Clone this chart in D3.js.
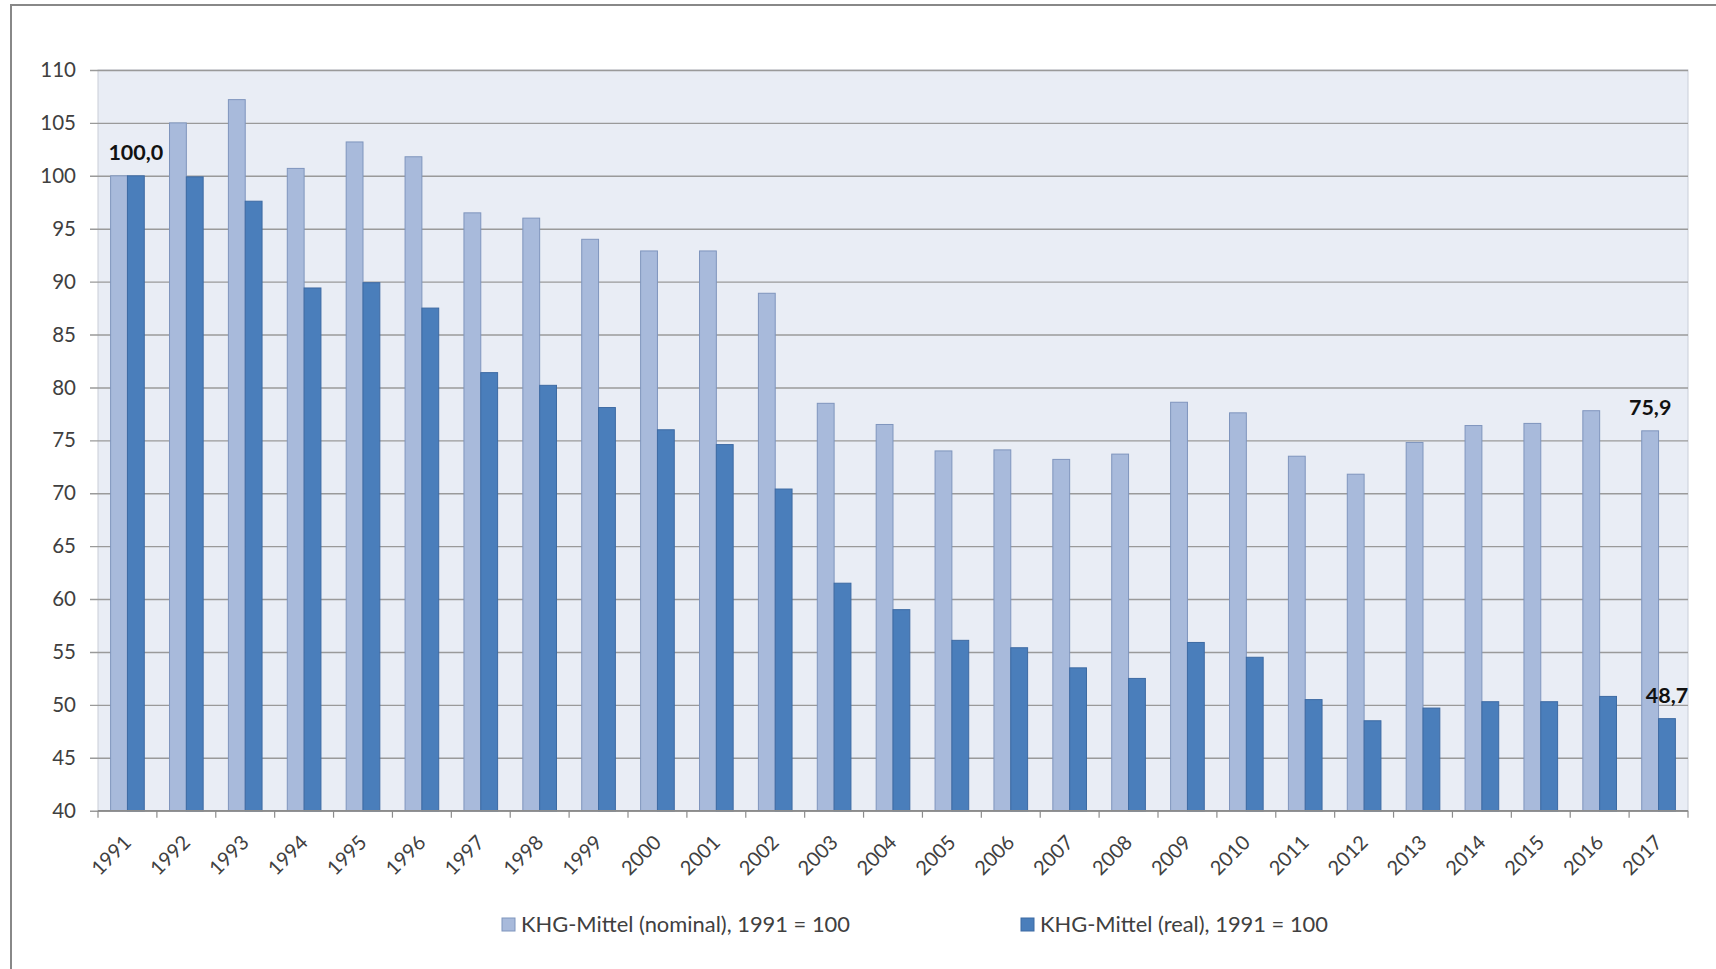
<!DOCTYPE html>
<html>
<head>
<meta charset="utf-8">
<script src="https://cdn.jsdelivr.net/npm/d3@7"></script>
<style>
  html, body { margin: 0; padding: 0; background: #ffffff; }
  svg { display: block; }
  text { font-family: Lato, "Open Sans", sans-serif; }
</style>
</head>
<body>
<svg id="chart" width="1716" height="969"></svg>
<script>
// Jahre und Indexwerte (1991 = 100)
const years = ["1991","1992","1993","1994","1995","1996","1997","1998","1999","2000",
               "2001","2002","2003","2004","2005","2006","2007","2008","2009","2010",
               "2011","2012","2013","2014","2015","2016","2017"];
const nominal = [100.0,105.0,107.2,100.7,103.2,101.8,96.5,96.0,94.0,92.9,
                 92.9,88.9,78.5,76.5,74.0,74.1,73.2,73.7,78.6,77.6,
                 73.5,71.8,74.8,76.4,76.6,77.8,75.9];
const real    = [100.0,99.9,97.6,89.4,89.9,87.5,81.4,80.2,78.1,76.0,
                 74.6,70.4,61.5,59.0,56.1,55.4,53.5,52.5,55.9,54.5,
                 50.5,48.5,49.7,50.3,50.3,50.8,48.7];
const seriesNames = ["KHG-Mittel (nominal), 1991 = 100", "KHG-Mittel (real), 1991 = 100"];
const yTicks = [40,45,50,55,60,65,70,75,80,85,90,95,100,105,110];
// Beschriftete Werte: [Reihe, Jahr]
const labelled = [[1,"1991"],[0,"2017"],[1,"2017"]];

const seriesKeys = ["nominal","real"];
const fills   = { nominal: "#a8badb", real: "#4a7ebb" };
const strokes = { nominal: "#7f95bd", real: "#3d6aa3" };

const svg = d3.select("#chart");

// Rahmen des Diagrammbereichs
svg.append("rect")
  .attr("x", 11).attr("y", 5).attr("width", 1740).attr("height", 1000)
  .attr("fill", "#ffffff").attr("stroke", "#888888").attr("stroke-width", 2);

const plot = { left: 98, right: 1688, top: 70, bottom: 810.7 };

const x = d3.scaleBand().domain(years).range([plot.left, plot.right]).padding(0);
const xs = d3.scaleBand().domain(seriesKeys).range([0, x.bandwidth()])
  .paddingInner(0).paddingOuter(0.75);
const y = d3.scaleLinear().domain([40, 110]).range([plot.bottom, plot.top]);

// Zeichenfläche
svg.append("rect")
  .attr("x", plot.left).attr("y", plot.top)
  .attr("width", plot.right - plot.left).attr("height", plot.bottom - plot.top)
  .attr("fill", "#e9edf5").attr("stroke", "#c9ced8").attr("stroke-width", 1);

// Y-Achse mit Gitterlinien (Striche reichen über die ganze Breite)
const yAxis = svg.append("g")
  .attr("transform", `translate(${plot.right},0)`)
  .call(d3.axisLeft(y).tickValues(yTicks).tickSize(plot.right - 90).tickPadding(14)
        .tickFormat(d3.format("d")));
yAxis.select(".domain").remove();
yAxis.selectAll(".tick line").attr("stroke", "#9a9a9a").attr("stroke-width", 1.4);
yAxis.selectAll(".tick text")
  .attr("fill", "#404040").style("font-size", "20.5px");

// Balken
const groups = svg.append("g").selectAll("g")
  .data(years.map((yr, i) => ({ year: yr, nominal: nominal[i], real: real[i] })))
  .join("g")
  .attr("transform", d => `translate(${x(d.year)},0)`);

groups.selectAll("rect")
  .data(d => seriesKeys.map(k => ({ key: k, value: d[k] })))
  .join("rect")
  .attr("x", d => xs(d.key))
  .attr("width", xs.bandwidth())
  .attr("y", d => y(d.value))
  .attr("height", d => y(40) - y(d.value))
  .attr("fill", d => fills[d.key])
  .attr("stroke", d => strokes[d.key])
  .attr("stroke-width", 1);

// X-Achse
const xAxis = svg.append("g").attr("transform", `translate(0,${plot.bottom})`);
xAxis.append("line")
  .attr("x1", plot.left).attr("x2", plot.right)
  .attr("stroke", "#8c8c8c").attr("stroke-width", 1.4);
xAxis.selectAll("line.tick")
  .data(years.map(yr => x(yr)).concat([plot.right]))
  .join("line").attr("class", "tick")
  .attr("x1", d => d).attr("x2", d => d)
  .attr("y1", 0).attr("y2", 7)
  .attr("stroke", "#8c8c8c").attr("stroke-width", 1.2);
xAxis.selectAll("text")
  .data(years)
  .join("text")
  .attr("transform", d => `translate(${x(d) + x.bandwidth() / 2 + 5},33) rotate(-45)`)
  .attr("text-anchor", "end")
  .attr("fill", "#404040")
  .style("font-size", "20px")
  .text(d => d);

// Datenbeschriftungen
const fmt = v => v.toFixed(1).replace(".", ",");
svg.append("g").selectAll("text")
  .data(labelled.map(([s, yr]) => {
    const i = years.indexOf(yr);
    const key = seriesKeys[s];
    const v = s === 0 ? nominal[i] : real[i];
    return { key, yr, v };
  }))
  .join("text")
  .attr("x", d => x(d.yr) + xs(d.key) + xs.bandwidth() / 2)
  .attr("y", d => y(d.v) - 16)
  .attr("text-anchor", "middle")
  .attr("fill", "#111111")
  .style("font-size", "21.5px")
  .style("font-weight", "bold")
  .text(d => fmt(d.v));

// Legende
const legendX = [502, 1021];
const legend = svg.append("g").selectAll("g")
  .data(seriesKeys)
  .join("g")
  .attr("transform", (d, i) => `translate(${legendX[i]},918)`);
legend.append("rect")
  .attr("width", 13).attr("height", 13)
  .attr("fill", d => fills[d]).attr("stroke", d => strokes[d]).attr("stroke-width", 1);
legend.append("text")
  .attr("x", 19).attr("y", 14)
  .attr("fill", "#404040")
  .style("font-size", "21.9px")
  .text((d, i) => seriesNames[i]);
</script>
</body>
</html>
